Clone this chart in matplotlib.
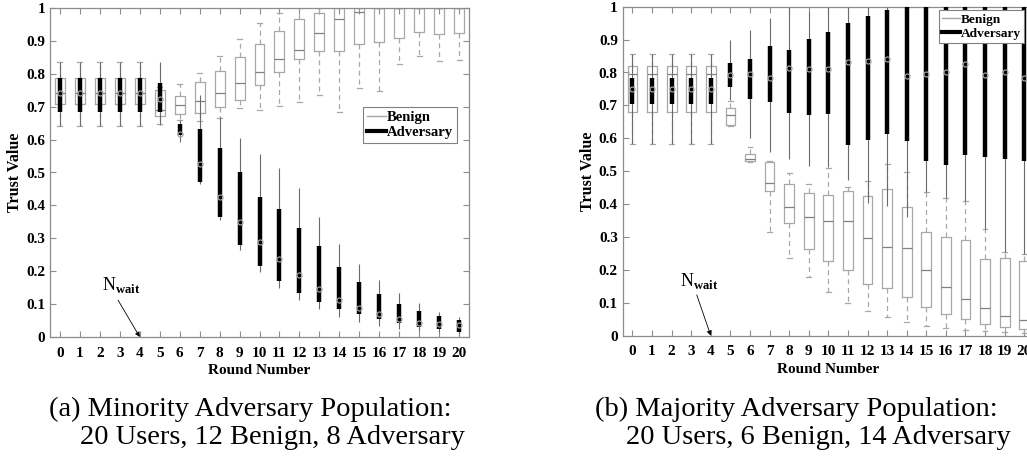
import matplotlib.pyplot as plt
from matplotlib.lines import Line2D

plt.rcParams['font.family'] = ['Liberation Serif', 'DejaVu Serif']
plt.rcParams['mathtext.fontset'] = 'custom'
plt.rcParams['mathtext.rm'] = 'Liberation Serif'
plt.rcParams['mathtext.bf'] = 'Liberation Serif:bold'

rounds = list(range(21))

# (a) minority adversary population -- benign users
a_ben_lo = [0.641]*5 + [0.646, 0.660, 0.657, 0.667, 0.695, 0.690, 0.702, 0.715, 0.736, 0.683, 0.756, 0.748, 0.829, 0.855, 0.839, 0.842]
a_ben_q1 = [0.708]*5 + [0.672, 0.678, 0.680, 0.700, 0.720, 0.765, 0.805, 0.844, 0.870, 0.870, 0.890, 0.896, 0.908, 0.926, 0.920, 0.923]
a_ben_md = [0.743]*5 + [0.690, 0.705, 0.718, 0.741, 0.771, 0.805, 0.844, 0.872, 0.923, 0.967, 0.989, 1.0, 1.0, 1.0, 1.0, 1.0]
a_ben_q3 = [0.786]*5 + [0.751, 0.733, 0.776, 0.809, 0.850, 0.890, 0.931, 0.966, 0.986, 1.0, 1.0, 1.0, 1.0, 1.0, 1.0, 1.0]
a_ben_hi = [0.837]*5 + [0.760, 0.769, 0.803, 0.854, 0.905, 0.953, 0.986, 1.0, 1.0, 1.0, 1.0, 1.0, 1.0, 1.0, 1.0, 1.0]
# (a) adversaries
a_adv_lo = [0.641]*5 + [0.645, 0.594, 0.465, 0.356, 0.264, 0.199, 0.148, 0.112, 0.084, 0.062, 0.046, 0.034, 0.023, 0.019, 0.014, 0.010]
a_adv_q1 = [0.685]*5 + [0.685, 0.614, 0.472, 0.364, 0.280, 0.217, 0.170, 0.133, 0.105, 0.084, 0.069, 0.054, 0.042, 0.031, 0.023, 0.016]
a_adv_md = [0.743]*5 + [0.722, 0.616, 0.525, 0.425, 0.349, 0.288, 0.236, 0.188, 0.145, 0.112, 0.087, 0.069, 0.054, 0.043, 0.039, 0.036]
a_adv_q3 = [0.786]*5 + [0.771, 0.647, 0.631, 0.574, 0.502, 0.427, 0.388, 0.330, 0.278, 0.214, 0.166, 0.130, 0.100, 0.079, 0.064, 0.052]
a_adv_hi = [0.837]*5 + [0.835, 0.660, 0.736, 0.668, 0.604, 0.555, 0.513, 0.452, 0.366, 0.283, 0.221, 0.173, 0.133, 0.102, 0.077, 0.060]

# (b) majority adversary population -- benign users
b_ben_lo = [0.582]*5 + [0.638, 0.528, 0.316, 0.237, 0.177, 0.133, 0.098, 0.075, 0.056, 0.041, 0.030, 0.023, 0.017, 0.013, 0.010, 0.008]
b_ben_q1 = [0.681]*5 + [0.640, 0.530, 0.441, 0.342, 0.264, 0.226, 0.200, 0.157, 0.146, 0.117, 0.086, 0.065, 0.050, 0.036, 0.027, 0.020]
b_ben_md = [0.795]*5 + [0.672, 0.537, 0.463, 0.392, 0.360, 0.348, 0.348, 0.296, 0.270, 0.266, 0.200, 0.149, 0.111, 0.083, 0.061, 0.048]
b_ben_q3 = [0.821]*5 + [0.691, 0.552, 0.528, 0.460, 0.433, 0.428, 0.441, 0.425, 0.446, 0.392, 0.316, 0.299, 0.291, 0.233, 0.237, 0.227]
b_ben_hi = [0.856]*5 + [0.714, 0.573, 0.532, 0.494, 0.460, 0.511, 0.451, 0.471, 0.521, 0.497, 0.436, 0.418, 0.410, 0.323, 0.255, 0.247]
# (b) adversaries
b_adv_lo = [0.582]*5 + [0.716, 0.600, 0.559, 0.536, 0.517, 0.512, 0.473, 0.402, 0.394, 0.362, 0.436, 0.418, 0.410, 0.323, 0.255, 0.247]
b_adv_q1 = [0.704]*5 + [0.755, 0.719, 0.711, 0.678, 0.671, 0.675, 0.579, 0.595, 0.612, 0.593, 0.532, 0.519, 0.549, 0.544, 0.538, 0.532]
b_adv_md = [0.749]*5 + [0.791, 0.795, 0.783, 0.813, 0.810, 0.811, 0.831, 0.836, 0.841, 0.789, 0.796, 0.802, 0.827, 0.793, 0.802, 0.784]
b_adv_q3 = [0.782]*5 + [0.828, 0.840, 0.882, 0.868, 0.901, 0.922, 0.951, 0.972, 0.990, 1.0, 1.0, 1.0, 1.0, 1.0, 1.0, 1.0]
b_adv_hi = [0.856]*5 + [0.899, 0.929, 0.965, 1.0, 0.985, 1.0, 1.0, 1.0, 1.0, 1.0, 1.0, 1.0, 1.0, 1.0, 1.0, 1.0]

yticks = [0, 0.1, 0.2, 0.3, 0.4, 0.5, 0.6, 0.7, 0.8, 0.9, 1]
ytick_labels = ['0', '0.1', '0.2', '0.3', '0.4', '0.5', '0.6', '0.7', '0.8', '0.9', '1']

BEN = '#a8a8a8'
BEN_MED = '#808080'
SPINE = '#8c8c8c'


def draw_panel(ax, ben, adv, legend_anchor, legend_size, nwait_text, nwait_arrow):
    stats = [dict(whislo=lo, q1=q1, med=md, q3=q3, whishi=hi, fliers=[])
             for lo, q1, md, q3, hi in zip(*ben)]
    ax.bxp(stats, positions=rounds, widths=0.5, capwidths=0.25, showfliers=False,
           boxprops=dict(color=BEN, lw=0.9),
           whiskerprops=dict(color=BEN, lw=0.9, ls=(0, (4, 3))),
           capprops=dict(color=BEN, lw=0.9),
           medianprops=dict(color=BEN_MED, lw=0.9))
    lo, q1, md, q3, hi = adv
    ax.vlines(rounds, lo, hi, color='#6a6a6a', lw=0.8, zorder=3)
    ax.vlines(rounds, q1, q3, color='black', lw=3.2, zorder=4)
    ax.plot(rounds, md, 'o', ms=3.6, mfc='none', mec='#a0a0a0', mew=0.9, zorder=5)

    ax.set_xlim(-0.5, 20.5)
    ax.set_ylim(0, 1)
    ax.set_xticks(rounds)
    ax.set_xticklabels([str(r) for r in rounds])
    ax.set_yticks(yticks)
    ax.set_yticklabels(ytick_labels)
    ax.tick_params(direction='in', top=True, right=True, length=4, width=0.8,
                   color=SPINE, labelsize=11)
    ax.tick_params(axis='x', pad=7)
    for lab in ax.get_xticklabels() + ax.get_yticklabels():
        lab.set_fontweight('bold')
    for s in ax.spines.values():
        s.set_color(SPINE)
        s.set_linewidth(0.9)
    ax.set_xlabel('Round Number', fontsize=11, fontweight='bold', labelpad=3)
    ax.set_ylabel('Trust Value', fontsize=11.5, fontweight='bold', labelpad=2)

    handles = [Line2D([], [], color=BEN, lw=1), Line2D([], [], color='black', lw=3)]
    leg = ax.legend(handles, ['Benign', 'Adversary'], loc='upper left',
                    bbox_to_anchor=legend_anchor, prop=dict(weight='bold', size=legend_size),
                    fancybox=False, framealpha=1, edgecolor='#808080',
                    handlelength=1.3, handletextpad=0.1, borderpad=0.25,
                    labelspacing=0.15, borderaxespad=0)
    leg.get_frame().set_linewidth(0.8)

    ax.text(nwait_text[0], nwait_text[1], r'$\mathrm{N}_{\mathbf{wait}}$',
            fontsize=13, ha='left', va='center')
    ax.annotate('', xy=(4, 0), xytext=nwait_arrow,
                arrowprops=dict(arrowstyle='-|>', color='black', lw=0.6,
                                mutation_scale=7, shrinkA=0, shrinkB=0))


fig = plt.figure(figsize=(10.27, 4.61), dpi=100)
ax_a = fig.add_axes([50 / 1027, 124 / 461, 419 / 1027, 329 / 461])
ax_b = fig.add_axes([622.7 / 1027, 125.3 / 461, 411.3 / 1027, 329 / 461])

draw_panel(ax_a, (a_ben_lo, a_ben_q1, a_ben_md, a_ben_q3, a_ben_hi),
           (a_adv_lo, a_adv_q1, a_adv_md, a_adv_q3, a_adv_hi),
           (0.747, 0.699), 10.5, (2.1, 0.158), (2.91, 0.112))
draw_panel(ax_b, (b_ben_lo, b_ben_q1, b_ben_md, b_ben_q3, b_ben_hi),
           (b_adv_lo, b_adv_q1, b_adv_md, b_adv_q3, b_adv_hi),
           (0.769, 0.99), 9.6, (2.45, 0.166), (3.28, 0.124))

fig.text(49 / 1027, 45 / 461, '(a) Minority Adversary Population:', fontsize=20.5, va='baseline')
fig.text(80 / 1027, 17 / 461, '20 Users, 12 Benign, 8 Adversary', fontsize=20.5, va='baseline')
fig.text(595 / 1027, 45 / 461, '(b) Majority Adversary Population:', fontsize=20.5, va='baseline')
fig.text(626 / 1027, 17 / 461, '20 Users, 6 Benign, 14 Adversary', fontsize=20.5, va='baseline')

fig.savefig('out.png', dpi=100)
